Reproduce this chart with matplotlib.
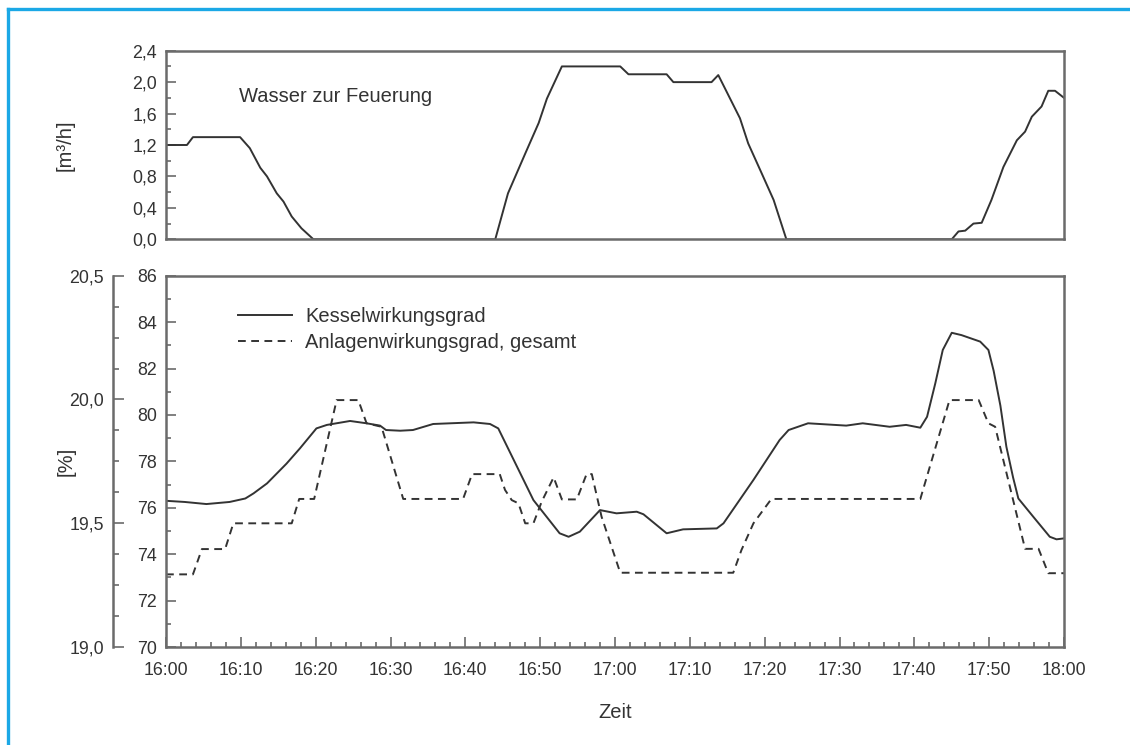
import matplotlib
matplotlib.use("Agg")
import matplotlib.pyplot as plt
from matplotlib.ticker import MultipleLocator, FuncFormatter
from matplotlib.lines import Line2D

plt.rcParams['font.family'] = ['Liberation Sans', 'DejaVu Sans']

# minutes after 16:00
water_t = [0, 2.8, 3.6, 9.9, 11.2, 12.6, 13.5, 14.8, 15.7, 16.8, 18.1, 19.7,
           44.0, 45.7, 48.0, 49.8, 50.9, 52.9, 60.7, 61.8, 66.9, 67.8, 72.9, 73.8,
           76.7, 77.8, 79.6, 81.2, 82.9,
           105.0, 105.9, 106.8, 107.9, 109.0, 110.3, 111.9, 113.7, 114.8, 115.7,
           117.0, 117.9, 118.8, 120.0]
water_flow = [1.2, 1.2, 1.3, 1.3, 1.16, 0.91, 0.80, 0.585, 0.48, 0.29, 0.14, 0.0,
              0.0, 0.585, 1.09, 1.48, 1.79, 2.2, 2.2, 2.1, 2.1, 2.0, 2.0, 2.09,
              1.54, 1.22, 0.84, 0.50, 0.0,
              0.0, 0.10, 0.11, 0.20, 0.21, 0.50, 0.92, 1.26, 1.37, 1.56,
              1.69, 1.89, 1.89, 1.80]

kessel_t = [0, 2.5, 5.4, 8.5, 10.6, 11.7, 13.5, 16.1, 17.9, 20.1, 21.5, 24.6, 26.8,
            28.6, 29.4, 31.3, 33.0, 35.7, 41.1, 43.3, 44.4, 49.1, 52.6, 53.8, 55.3,
            58.0, 60.2, 62.9, 63.8, 66.9, 69.1, 73.6, 74.5, 78.5, 82.0, 83.2, 85.8,
            90.9, 93.1, 96.7, 98.9, 100.8, 101.7, 102.8, 103.8, 105.0, 106.3, 108.8,
            109.9, 110.6, 111.5, 112.3, 113.2, 113.9, 115.9, 118.1, 119.0, 120.0]
kessel_eff = [76.3, 76.25, 76.16, 76.25, 76.4, 76.62, 77.05, 77.9, 78.56, 79.42,
              79.57, 79.74, 79.64, 79.54, 79.35, 79.32, 79.35, 79.61, 79.68, 79.61,
              79.42, 76.33, 74.9, 74.75, 74.97, 75.9, 75.76, 75.83, 75.72, 74.9,
              75.07, 75.11, 75.33, 77.2, 78.92, 79.35, 79.64, 79.54, 79.64, 79.49,
              79.57, 79.45, 79.92, 81.36, 82.8, 83.54, 83.44, 83.16, 82.8, 81.9,
              80.4, 78.63, 77.3, 76.4, 75.61, 74.75, 74.64, 74.68]

anlage_t = [0, 3.6, 4.8, 7.9, 9.0, 16.8, 17.8, 19.8, 22.8, 25.7, 26.8, 28.8, 31.7,
            39.7, 40.9, 44.6, 45.3, 46.2, 47.1, 48.0, 49.1, 50.2, 51.8, 52.9, 54.9,
            56.2, 56.9, 58.2, 60.7, 75.8, 76.9, 78.5, 80.9, 100.8, 104.7, 108.6,
            109.9, 110.8, 114.8, 116.6, 117.9, 120.0]
anlage_eff = [73.13, 73.13, 74.22, 74.22, 75.33, 75.33, 76.38, 76.38, 80.64, 80.64,
              79.64, 79.49, 76.38, 76.38, 77.45, 77.45, 76.77, 76.33, 76.19, 75.33,
              75.33, 76.26, 77.31, 76.36, 76.36, 77.45, 77.45, 75.62, 73.2, 73.2,
              74.18, 75.33, 76.38, 76.38, 80.64, 80.64, 79.64, 79.49, 74.23, 74.23,
              73.18, 73.18]

ink = '#333333'
frame = '#6b6b6b'
W, H = 1130, 745
tick_fs = 12.8
text_fs = 14.5

fig = plt.figure(figsize=(W / 100, H / 100), dpi=100)
fig.patch.set_facecolor('white')

# blue frame lines
fig.add_artist(Line2D([8 / W, 8 / W], [0, 1 - 9 / H], transform=fig.transFigure,
                      color='#1ba8e6', lw=2.4, solid_capstyle='projecting'))
fig.add_artist(Line2D([8 / W, 1], [1 - 9 / H, 1 - 9 / H], transform=fig.transFigure,
                      color='#1ba8e6', lw=2.4, solid_capstyle='projecting'))

ax_top = fig.add_axes([166 / W, 1 - 239.3 / H, 898 / W, 188.6 / H])
ax = fig.add_axes([166 / W, 1 - 647 / H, 898 / W, 371.3 / H])

comma = FuncFormatter(lambda v, p: f"{v:.1f}".replace('.', ','))
hhmm = FuncFormatter(lambda v, p: f"{16 + int(round(v)) // 60}:{int(round(v)) % 60:02d}")


def style_frame(a):
    for s in a.spines.values():
        s.set_color(frame)
        s.set_linewidth(1.8)


# --- water flow panel ---
style_frame(ax_top)
ax_top.plot(water_t, water_flow, color=ink, lw=1.4)
ax_top.set_xlim(0, 120)
ax_top.set_ylim(0, 2.4)
ax_top.yaxis.set_major_locator(MultipleLocator(0.4))
ax_top.yaxis.set_minor_locator(MultipleLocator(0.2))
ax_top.yaxis.set_major_formatter(comma)
ax_top.set_xticks([])
ax_top.tick_params(axis='y', which='major', direction='in', length=7, width=1.2,
                   color=frame, labelsize=tick_fs, labelcolor=ink, pad=6.5)
ax_top.tick_params(axis='y', which='minor', direction='in', length=3.5, width=1.2, color=frame)
ax_top.set_ylabel('[m³/h]', fontsize=text_fs, color=ink)
ax_top.yaxis.set_label_coords((65 - 166) / 898, 0.5)
ax_top.yaxis.label.set_va('center')
fig.text(239 / W, 1 - 97 / H, 'Wasser zur Feuerung', fontsize=text_fs,
         color=ink, va='center', ha='left')

# --- efficiency panel ---
style_frame(ax)
ax.plot(kessel_t, kessel_eff, color=ink, lw=1.4, label='Kesselwirkungsgrad')
ax.plot(anlage_t, anlage_eff, color=ink, lw=1.4, ls=(0, (4, 2.8)),
        label='Anlagenwirkungsgrad, gesamt')
ax.set_xlim(0, 120)
ax.set_ylim(70, 86)
ax.xaxis.set_major_locator(MultipleLocator(10))
ax.xaxis.set_minor_locator(MultipleLocator(2))
ax.xaxis.set_major_formatter(hhmm)
ax.yaxis.set_major_locator(MultipleLocator(2))
ax.yaxis.set_minor_locator(MultipleLocator(1))
ax.tick_params(which='major', direction='in', length=7.5, width=1.2, color=frame,
               labelsize=tick_fs, labelcolor=ink)
ax.tick_params(which='minor', direction='in', length=3.5, width=1.2, color=frame)
ax.tick_params(axis='x', pad=10.5)
ax.tick_params(axis='y', pad=6.5)
ax.set_xlabel('Zeit', fontsize=text_fs, color=ink)
ax.xaxis.set_label_coords(0.5, (647 - 712) / 371.3)
ax.xaxis.label.set_va('center')
ax.set_ylabel('[%]', fontsize=text_fs, color=ink)
ax.yaxis.set_label_coords((66 - 166) / 898, 0.5)
ax.yaxis.label.set_va('center')
ax.legend(loc='upper left', bbox_to_anchor=((238 - 166) / 898, (647 - 307) / 371.3),
          frameon=False, fontsize=text_fs, handlelength=2.7, handletextpad=0.65,
          labelspacing=0.33, borderpad=0, borderaxespad=0, labelcolor=ink)

# secondary scale on the far left
ax2 = ax.twinx()
ax2.set_ylim(19.0, 20.5)
for name in ('top', 'right', 'bottom'):
    ax2.spines[name].set_visible(False)
ax2.spines['left'].set_position(('outward', 38))
ax2.spines['left'].set_color(frame)
ax2.spines['left'].set_linewidth(1.8)
ax2.yaxis.set_ticks_position('left')
ax2.yaxis.set_label_position('left')
ax2.yaxis.set_major_locator(MultipleLocator(0.5))
ax2.yaxis.set_minor_locator(MultipleLocator(0.125))
ax2.yaxis.set_major_formatter(comma)
ax2.tick_params(axis='y', which='major', direction='in', length=8, width=1.2, color=frame,
                labelsize=tick_fs, labelcolor=ink, pad=6.5)
ax2.tick_params(axis='y', which='minor', direction='in', length=4.5, width=1.2, color=frame)

fig.savefig('out.png', dpi=100, facecolor='white')
